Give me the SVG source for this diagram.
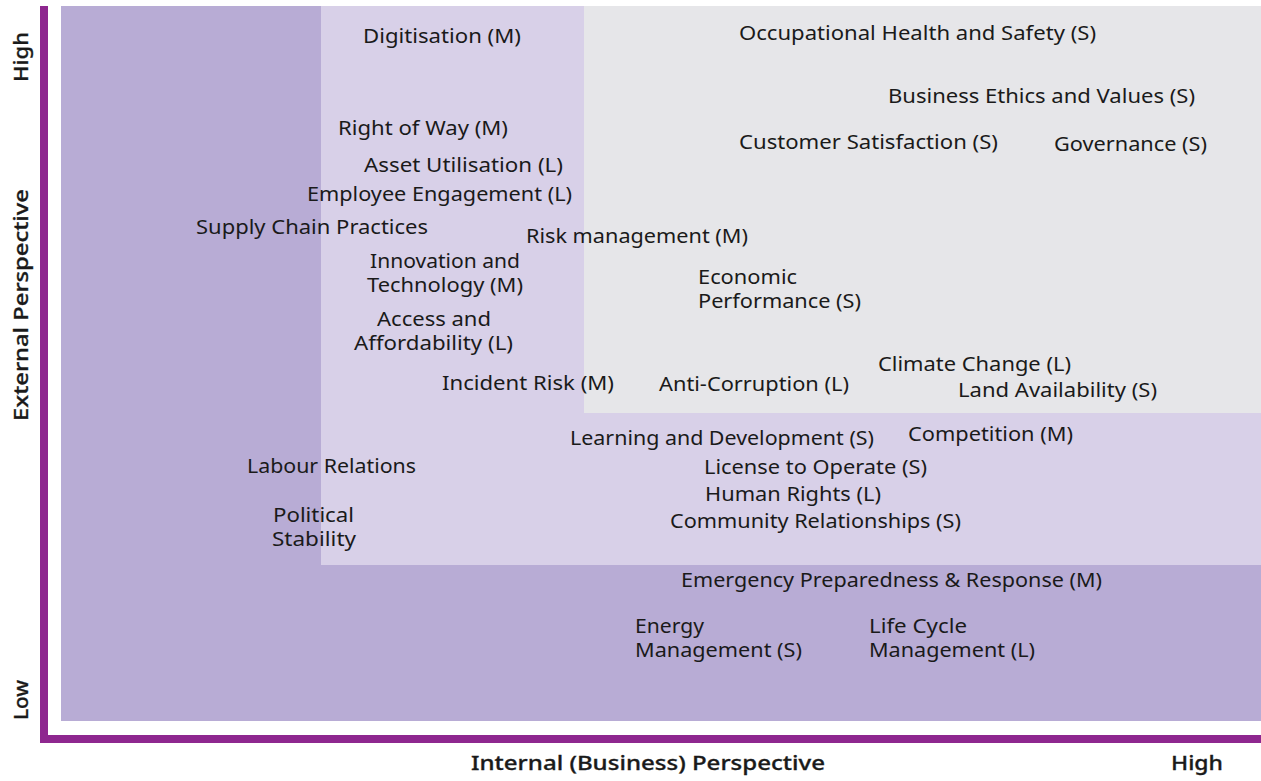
<svg xmlns="http://www.w3.org/2000/svg" width="1261" height="781" viewBox="0 0 1261 781">
<style>
  .t { font-family: "Noto Sans", "DejaVu Sans", sans-serif; font-size: 19px; fill: #1a1a1a; }
  .ax { font-family: "Noto Sans", "DejaVu Sans", sans-serif; font-size: 19px; font-weight: 500; fill: #1a1a1a; stroke: #1a1a1a; stroke-width: 0.3px; }
</style>
<rect width="1261" height="781" fill="#ffffff"/>
<g id="zones">
  <rect x="61" y="6" width="1200" height="715" fill="#b8acd5"/>
  <rect x="321" y="6" width="940" height="559" fill="#d8d0e8"/>
  <rect x="584" y="6" width="677" height="407" fill="#e6e6e9"/>
</g>
<g id="axes">
  <rect x="40" y="6" width="8" height="737" fill="#8e278f"/>
  <rect x="40" y="735" width="1221" height="8" fill="#8e278f"/>
  <text class="ax" transform="translate(28,82) rotate(-90)" textLength="50" lengthAdjust="spacingAndGlyphs">High</text>
  <text class="ax" transform="translate(28,305) rotate(-90)" text-anchor="middle" textLength="232" lengthAdjust="spacingAndGlyphs">External Perspective</text>
  <text class="ax" transform="translate(28,720) rotate(-90)" textLength="40" lengthAdjust="spacingAndGlyphs">Low</text>
  <text class="ax" x="471" y="770" textLength="354" lengthAdjust="spacingAndGlyphs">Internal (Business) Perspective</text>
  <text class="ax" x="1171" y="770" textLength="52" lengthAdjust="spacingAndGlyphs">High</text>
</g>
<g id="connectors"></g>
<g id="n-digitisation"><text class="t" x="363" y="43" textLength="158" lengthAdjust="spacingAndGlyphs">Digitisation (M)</text></g>
<g id="n-ohs"><text class="t" x="739" y="40" textLength="357" lengthAdjust="spacingAndGlyphs">Occupational Health and Safety (S)</text></g>
<g id="n-ethics"><text class="t" x="888" y="103" textLength="307" lengthAdjust="spacingAndGlyphs">Business Ethics and Values (S)</text></g>
<g id="n-customer"><text class="t" x="739" y="149" textLength="259" lengthAdjust="spacingAndGlyphs">Customer Satisfaction (S)</text></g>
<g id="n-governance"><text class="t" x="1054" y="151" textLength="153" lengthAdjust="spacingAndGlyphs">Governance (S)</text></g>
<g id="n-rightofway"><text class="t" x="338" y="135" textLength="170" lengthAdjust="spacingAndGlyphs">Right of Way (M)</text></g>
<g id="n-asset"><text class="t" x="364" y="172" textLength="199" lengthAdjust="spacingAndGlyphs">Asset Utilisation (L)</text></g>
<g id="n-employee"><text class="t" x="307" y="201" textLength="265" lengthAdjust="spacingAndGlyphs">Employee Engagement (L)</text></g>
<g id="n-supply"><text class="t" x="196" y="234" textLength="232" lengthAdjust="spacingAndGlyphs">Supply Chain Practices</text></g>
<g id="n-risk"><text class="t" x="526" y="243" textLength="222" lengthAdjust="spacingAndGlyphs">Risk management (M)</text></g>
<g id="n-innovation">
  <text class="t" x="370" y="268" textLength="150" lengthAdjust="spacingAndGlyphs">Innovation and</text>
  <text class="t" x="367" y="292" textLength="156" lengthAdjust="spacingAndGlyphs">Technology (M)</text>
</g>
<g id="n-economic">
  <text class="t" x="698" y="284" textLength="99" lengthAdjust="spacingAndGlyphs">Economic</text>
  <text class="t" x="698" y="308" textLength="163" lengthAdjust="spacingAndGlyphs">Performance (S)</text>
</g>
<g id="n-access">
  <text class="t" x="377" y="326" textLength="114" lengthAdjust="spacingAndGlyphs">Access and</text>
  <text class="t" x="354" y="350" textLength="159" lengthAdjust="spacingAndGlyphs">Affordability (L)</text>
</g>
<g id="n-climate"><text class="t" x="878" y="371" textLength="193" lengthAdjust="spacingAndGlyphs">Climate Change (L)</text></g>
<g id="n-incident"><text class="t" x="442" y="390" textLength="172" lengthAdjust="spacingAndGlyphs">Incident Risk (M)</text></g>
<g id="n-anticorruption"><text class="t" x="659" y="391" textLength="190" lengthAdjust="spacingAndGlyphs">Anti-Corruption (L)</text></g>
<g id="n-land"><text class="t" x="958" y="397" textLength="199" lengthAdjust="spacingAndGlyphs">Land Availability (S)</text></g>
<g id="n-learning"><text class="t" x="570" y="445" textLength="304" lengthAdjust="spacingAndGlyphs">Learning and Development (S)</text></g>
<g id="n-competition"><text class="t" x="908" y="441" textLength="165" lengthAdjust="spacingAndGlyphs">Competition (M)</text></g>
<g id="n-labour"><text class="t" x="247" y="473" textLength="169" lengthAdjust="spacingAndGlyphs">Labour Relations</text></g>
<g id="n-license"><text class="t" x="704" y="474" textLength="223" lengthAdjust="spacingAndGlyphs">License to Operate (S)</text></g>
<g id="n-human"><text class="t" x="705" y="501" textLength="176" lengthAdjust="spacingAndGlyphs">Human Rights (L)</text></g>
<g id="n-political">
  <text class="t" x="273" y="522" textLength="81" lengthAdjust="spacingAndGlyphs">Political</text>
  <text class="t" x="272" y="546" textLength="84" lengthAdjust="spacingAndGlyphs">Stability</text>
</g>
<g id="n-community"><text class="t" x="670" y="528" textLength="291" lengthAdjust="spacingAndGlyphs">Community Relationships (S)</text></g>
<g id="n-emergency"><text class="t" x="681" y="587" textLength="421" lengthAdjust="spacingAndGlyphs">Emergency Preparedness &amp; Response (M)</text></g>
<g id="n-energy">
  <text class="t" x="635" y="633" textLength="69" lengthAdjust="spacingAndGlyphs">Energy</text>
  <text class="t" x="635" y="657" textLength="167" lengthAdjust="spacingAndGlyphs">Management (S)</text>
</g>
<g id="n-lifecycle">
  <text class="t" x="869" y="633" textLength="98" lengthAdjust="spacingAndGlyphs">Life Cycle</text>
  <text class="t" x="869" y="657" textLength="166" lengthAdjust="spacingAndGlyphs">Management (L)</text>
</g>
</svg>
